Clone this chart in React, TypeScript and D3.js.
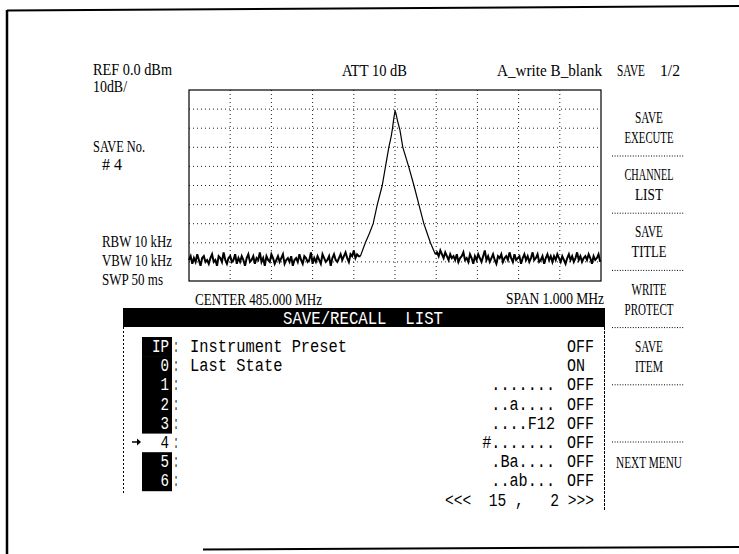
import { useEffect, useRef } from 'react';
import * as d3 from 'd3';

// spectrum sweep, 1 MHz span around 485 MHz; x in kHz offset, y in dBm
const sweepStartLeft = -500;
const sweepStep = 4;
const noiseLeft = [
  -89, -87, -91, -88, -90, -86, -89, -92, -88, -87, -90, -89, -91,
  -88, -86, -90, -89, -92, -87, -88, -90, -85, -89, -91, -88, -87,
  -90, -89, -86, -91, -88, -90, -87, -89, -92, -88, -86, -90, -89,
  -87, -91, -88, -89, -85, -90, -88, -92, -87, -89, -90, -86, -88,
  -91, -89, -87, -90, -88, -86, -91, -89, -88, -90, -87, -92, -89,
  -88, -90, -86, -89, -91, -87, -88, -90, -89, -85, -91, -88, -90,
  -87, -89, -91, -86, -88, -90, -89, -87, -92, -88, -86, -89, -90,
  -88, -86, -89, -87, -85, -88, -90, -86, -87, -84, -88, -86, -87,
];
const peakOffsets = [-84, -72, -62, -53, -43, -31, -23, -15, -9, -6, -3, 0, 2, 6, 12, 19, 33, 46, 58, 70, 78, 86, 94, 98];
const peakLevels = [-87, -80, -75, -70, -60, -50, -40, -30, -24, -20, -15, -11, -12, -16, -21, -30, -40, -50, -60, -70, -75, -80, -84, -86];
const sweepStartRight = 102;
const noiseRight = [
  -85, -87, -84, -86, -88, -85, -87, -89, -86, -88,
  -87, -89, -86, -90, -88, -87, -85, -89, -88, -90,
  -86, -88, -91, -87, -89, -86, -88, -90, -87, -84,
  -89, -87, -90, -88, -86, -89, -91, -87, -88, -86,
  -90, -88, -87, -89, -85, -88, -90, -86, -89, -88,
  -87, -91, -88, -86, -89, -87, -90, -88, -85, -89,
  -88, -86, -90, -89, -87, -91, -88, -86, -89, -87,
  -90, -87, -89, -86, -88, -90, -87, -89, -91, -88,
  -86, -89, -87, -90, -88, -85, -89, -87, -90, -88,
  -87, -89, -86, -88, -91, -87, -89, -88, -86, -90,
];

const refLevel = 0;
const dbPerDiv = 10;
const divisions = 10;

const softKeys = [['SAVE', 'EXECUTE'], ['CHANNEL', 'LIST'], ['SAVE', 'TITLE'], ['WRITE', 'PROTECT'], ['SAVE', 'ITEM'], [], ['NEXT MENU']];
const rowKeys = ['IP', '0', '1', '2', '3', '4', '5', '6'];
const rowTitles = ['Instrument Preset', 'Last State', '', '', '', '', '', ''];
const rowNames = ['', '', '.......', '..a....', '....F12', '#.......', '.Ba....', '..ab...'];
const rowStatus = ['OFF', 'ON', 'OFF', 'OFF', 'OFF', 'OFF', 'OFF', 'OFF'];
const currentKey = '4';
const pagerText = '<<<  15 ,   2 >>>';
const listTitle = 'SAVE/RECALL  LIST';

const serif = 'Liberation Serif';
const mono = 'Liberation Mono';

const App = () => {
  const ref = useRef<SVGSVGElement>(null!);

  useEffect(() => {
    const svg = d3.select(ref.current);
    svg.selectAll('*').remove();

    const left = 189, right = 601, top = 90, bottom = 281;
    const x = d3.scaleLinear().domain([-500, 500]).range([left, right]);
    const y = d3.scaleLinear().domain([refLevel, refLevel - dbPerDiv * divisions]).range([top, bottom]);

    const text = (s: string, tx: number, ty: number, w: number, opts: any = {}) =>
      svg.append('text')
        .attr('x', tx).attr('y', ty)
        .attr('font-family', opts.font ?? serif)
        .attr('font-size', opts.size ?? 17)
        .attr('fill', opts.fill ?? '#000')
        .attr('text-anchor', opts.anchor ?? 'start')
        .attr('textLength', w)
        .attr('lengthAdjust', 'spacingAndGlyphs')
        .style('white-space', 'pre')
        .text(s);

    // page border of the scan
    svg.append('line').attr('x1', 7).attr('y1', 10.5).attr('x2', 739).attr('y2', 6).attr('stroke', '#000').attr('stroke-width', 2);
    svg.append('line').attr('x1', 7).attr('y1', 10).attr('x2', 7).attr('y2', 554).attr('stroke', '#000').attr('stroke-width', 2.5);
    svg.append('line').attr('x1', 203).attr('y1', 549.5).attr('x2', 739).attr('y2', 547).attr('stroke', '#000').attr('stroke-width', 2);

    // grid
    const g = svg.append('g');
    g.selectAll('line.v')
      .data(d3.range(1, divisions))
      .enter().append('line')
      .attr('x1', d => x(-500 + d * 100)).attr('x2', d => x(-500 + d * 100))
      .attr('y1', top).attr('y2', bottom)
      .attr('stroke', '#222').attr('stroke-width', 1).attr('stroke-dasharray', '1 3');
    g.selectAll('line.h')
      .data(d3.range(1, divisions))
      .enter().append('line')
      .attr('y1', d => y(refLevel - d * dbPerDiv)).attr('y2', d => y(refLevel - d * dbPerDiv))
      .attr('x1', left).attr('x2', right)
      .attr('stroke', '#222').attr('stroke-width', 1).attr('stroke-dasharray', '1 3');
    svg.append('rect')
      .attr('x', left).attr('y', top).attr('width', right - left).attr('height', bottom - top)
      .attr('fill', 'none').attr('stroke', '#000').attr('stroke-width', 1.2);

    // trace: noise floor drawn heavier, like the plotter's dense sweep
    const leftPts = noiseLeft.map((v, i) => [sweepStartLeft + i * sweepStep, v] as [number, number]);
    const peakPts = peakOffsets.map((f, i) => [f, peakLevels[i]] as [number, number]);
    const rightPts = noiseRight.map((v, i) => [sweepStartRight + i * sweepStep, v] as [number, number]);
    const line = d3.line<[number, number]>().x(d => x(d[0])).y(d => y(d[1]));
    svg.append('path').attr('d', line([...leftPts, peakPts[0]])).attr('fill', 'none').attr('stroke', '#000').attr('stroke-width', 2);
    svg.append('path').attr('d', line([peakPts[peakPts.length - 1], ...rightPts])).attr('fill', 'none').attr('stroke', '#000').attr('stroke-width', 2);
    svg.append('path').attr('d', line(peakPts)).attr('fill', 'none').attr('stroke', '#000').attr('stroke-width', 1.2);

    // annotations
    text('REF 0.0 dBm', 93, 75, 79, { size: 16 });
    text('10dB/', 93, 92, 34, { size: 16 });
    text('ATT 10 dB', 342, 76, 65);
    text('A_write B_blank', 497, 76, 105);
    text('SAVE', 617, 76, 28);
    text('1/2', 660, 76, 20);
    text('SAVE No.', 93, 152, 52);
    text('# 4', 102, 170, 20);
    text('RBW 10 kHz', 102, 247, 70);
    text('VBW 10 kHz', 102, 266, 70);
    text('SWP 50 ms', 102, 285, 61);
    text('CENTER 485.000 MHz', 195, 305, 127);
    text('SPAN 1.000 MHz', 506, 304, 98);

    // soft keys
    const cx = 649;
    softKeys.forEach((k, i) => {
      const sep = 156 + i * 57.2;
      if (k.length === 2) {
        text(k[0], cx, sep - 33, k[0].length * 7, { anchor: 'middle' });
        text(k[1], cx, sep - 13, k[1].length * 7, { anchor: 'middle' });
      } else if (k.length === 1) {
        text(k[0], cx, sep - 57.2 + 26, 66, { anchor: 'middle' });
      }
      if (i < 6) {
        svg.append('line').attr('x1', 612).attr('x2', 684).attr('y1', sep).attr('y2', sep)
          .attr('stroke', '#000').attr('stroke-width', 1).attr('stroke-dasharray', '1 1.6');
      }
    });

    // save/recall list
    svg.append('rect').attr('x', 123).attr('y', 308).attr('width', 482).attr('height', 19).attr('fill', '#000');
    text(listTitle, 283, 324, 160, { font: mono, size: 18, fill: '#fff' });
    svg.append('line').attr('x1', 123.5).attr('x2', 123.5).attr('y1', 327).attr('y2', 495)
      .attr('stroke', '#000').attr('stroke-width', 1).attr('stroke-dasharray', '2 2');
    svg.append('line').attr('x1', 604.5).attr('x2', 604.5).attr('y1', 327).attr('y2', 510)
      .attr('stroke', '#000').attr('stroke-width', 1).attr('stroke-dasharray', '3 1');

    const rowY = (i: number) => 352 + i * 19.2;
    rowKeys.forEach((k, i) => {
      const by = rowY(i);
      const cur = k === currentKey;
      if (!cur) {
        svg.append('rect').attr('x', 142).attr('y', by - 15).attr('width', 30).attr('height', 19.8).attr('fill', '#000');
      } else {
        svg.append('path').attr('d', `M132,${by - 6}h6`).attr('stroke', '#000').attr('stroke-width', 1.5);
        svg.append('path').attr('d', `M137,${by - 9.5}l4,3.5l-4,3.5z`).attr('fill', '#000');
      }
      text(k, 169, by, k.length * 8.5, { font: mono, size: 18, fill: cur ? '#000' : '#fff', anchor: 'end' });
      text(':', 173.5, by, 5, { font: mono, size: 18 });
      if (rowTitles[i]) text(rowTitles[i], 190, by, rowTitles[i].length * 9.24, { font: mono, size: 18 });
      if (rowNames[i]) text(rowNames[i], 555, by, rowNames[i].length * 9.1, { font: mono, size: 18, anchor: 'end' });
      text(rowStatus[i], 567, by, rowStatus[i].length * 9, { font: mono, size: 18 });
    });
    text(pagerText, 594, rowY(rowKeys.length) + 0.5, 149, { font: mono, size: 18, anchor: 'end' });

    return () => {
      svg.selectAll('*').remove();
    };
  }, []);

  return (
    <svg
      ref={ref}
      width={739}
      height={554}
      style={{ position: 'absolute', left: 0, top: 0, background: '#fff' }}
    />
  );
};

export default App;
